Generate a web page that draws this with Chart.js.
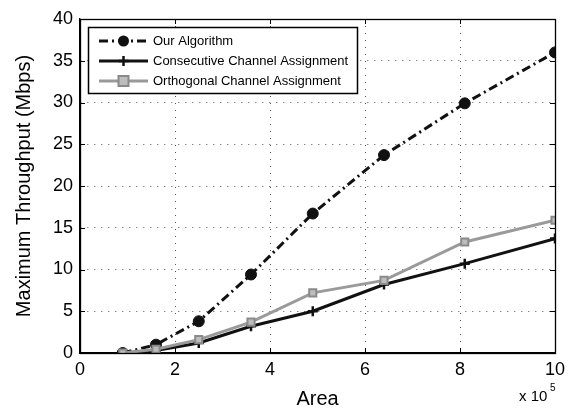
<!DOCTYPE html>
<html>
<head>
<meta charset="utf-8">
<script src="https://cdn.jsdelivr.net/npm/chart.js@4.4.0/dist/chart.umd.min.js"></script>
<style>
  html, body { margin: 0; padding: 0; background: #fff; }
  #wrap { width: 573px; height: 411px; }
</style>
</head>
<body>
<div id="wrap"><canvas id="chart" width="573" height="411"></canvas></div>
<script>
// area in units of 10^5
const areas = [0.9, 1.6, 2.5, 3.6, 4.9, 6.4, 8.1, 10];
const ourAlgorithm = [0, 1.0, 3.8, 9.4, 16.7, 23.7, 29.9, 36.0];
const consecutive = [0, 0.3, 1.2, 3.2, 5.0, 8.2, 10.7, 13.7];
const orthogonal = [0, 0.45, 1.6, 3.7, 7.2, 8.7, 13.3, 15.9];
const seriesNames = ["Our Algorithm", "Consecutive Channel Assignment", "Orthogonal Channel Assignment"];

const FONT = "'Liberation Sans', Arial, Helvetica, sans-serif";

function pts(ys) {
    return areas.map((x, i) => ({ x: x, y: ys[i] }));
}

// box, inward ticks, legend and the exponent label
const decorPlugin = {
    id: "decor",
    afterDraw(chart) {
        const ctx = chart.ctx;
        const a = chart.chartArea;
        const xs = chart.scales.x;
        const ys = chart.scales.y;
        ctx.save();
        ctx.strokeStyle = "#000";
        ctx.lineWidth = 1.3;
        ctx.setLineDash([]);
        ctx.strokeRect(a.left + 0.5, a.top + 0.5, a.right - a.left, a.bottom - a.top);
        const t = 5;
        ctx.lineWidth = 1;
        ctx.beginPath();
        xs.ticks.forEach(tk => {
            const px = Math.round(xs.getPixelForValue(tk.value)) + 0.5;
            ctx.moveTo(px, a.bottom); ctx.lineTo(px, a.bottom - t);
            ctx.moveTo(px, a.top); ctx.lineTo(px, a.top + t);
        });
        ys.ticks.forEach(tk => {
            const py = Math.round(ys.getPixelForValue(tk.value)) + 0.5;
            ctx.moveTo(a.left, py); ctx.lineTo(a.left + t, py);
            ctx.moveTo(a.right, py); ctx.lineTo(a.right - t, py);
        });
        ctx.stroke();

        // legend
        const lx = 88, ly = 27, lw = 269, lh = 66;
        ctx.fillStyle = "#fff";
        ctx.fillRect(lx, ly, lw, lh);
        ctx.lineWidth = 1.5;
        ctx.strokeRect(lx + 0.5, ly + 0.5, lw, lh);
        ctx.font = "13px " + FONT;
        ctx.textBaseline = "middle";
        chart.data.datasets.forEach((ds, i) => {
            const y = ly + 14 + i * 20;
            const cx = 123.5;
            ctx.save();
            ctx.strokeStyle = ds.borderColor;
            ctx.lineWidth = ds.borderWidth;
            ctx.setLineDash(ds.borderDash || []);
            ctx.beginPath();
            ctx.moveTo(99, y); ctx.lineTo(148, y);
            ctx.stroke();
            ctx.restore();
            ctx.save();
            ctx.fillStyle = ds.pointBackgroundColor;
            ctx.strokeStyle = ds.pointBorderColor;
            ctx.lineWidth = ds.pointBorderWidth;
            ctx.beginPath();
            const r = ds.pointRadius;
            if (ds.pointStyle === "circle") {
                ctx.arc(cx, y, r, 0, Math.PI * 2);
                ctx.fill();
            } else if (ds.pointStyle === "rect") {
                ctx.rect(cx - r, y - r, 2 * r, 2 * r);
                ctx.fill(); ctx.stroke();
            } else {
                ctx.moveTo(cx, y - r); ctx.lineTo(cx, y + r);
                ctx.moveTo(cx - r, y); ctx.lineTo(cx + r, y);
                ctx.stroke();
            }
            ctx.restore();
            ctx.fillStyle = "#000";
            ctx.fillText(seriesNames[i], 153, y);
        });

        // x 10^5
        ctx.fillStyle = "#000";
        ctx.textBaseline = "alphabetic";
        ctx.font = "15px " + FONT;
        ctx.fillText("x 10", 519, 401);
        ctx.font = "10px " + FONT;
        ctx.fillText("5", 550, 391);
        ctx.restore();
    }
};

new Chart(document.getElementById("chart").getContext("2d"), {
    type: "line",
    data: {
        datasets: [
            {
                label: seriesNames[0],
                data: pts(ourAlgorithm),
                borderColor: "#111",
                borderWidth: 3,
                borderDash: [9, 4, 2, 4],
                pointStyle: "circle",
                pointRadius: 5.5,
                pointBackgroundColor: "#111",
                pointBorderColor: "#111",
                pointBorderWidth: 1,
                tension: 0,
                order: 3
            },
            {
                label: seriesNames[1],
                data: pts(consecutive),
                borderColor: "#111",
                borderWidth: 3,
                pointStyle: "cross",
                pointRadius: 5,
                pointBackgroundColor: "#111",
                pointBorderColor: "#111",
                pointBorderWidth: 2.5,
                tension: 0,
                order: 2
            },
            {
                label: seriesNames[2],
                data: pts(orthogonal),
                borderColor: "#9a9a9a",
                borderWidth: 3,
                pointStyle: "rect",
                pointRadius: 5,
                pointBackgroundColor: "#bdbdbd",
                pointBorderColor: "#8a8a8a",
                pointBorderWidth: 2,
                tension: 0,
                order: 1
            }
        ]
    },
    options: {
        responsive: false,
        animation: false,
        layout: { padding: { top: 19, right: 18, left: 0, bottom: 0 } },
        plugins: {
            legend: { display: false },
            tooltip: { enabled: false }
        },
        scales: {
            x: {
                type: "linear",
                min: 0,
                max: 10,
                ticks: { stepSize: 2, padding: 6, color: "#000", font: { family: FONT, size: 18 } },
                grid: { color: "#555", lineWidth: 1, drawTicks: false },
                border: { display: true, color: "#000", width: 1.3, dash: [1, 6] },
                title: { display: true, text: "Area", color: "#000", font: { family: FONT, size: 20 }, padding: { top: 0, bottom: 0 } },
                afterFit: s => { s.height = 58; }
            },
            y: {
                type: "linear",
                min: 0,
                max: 40,
                ticks: { stepSize: 5, padding: 7, color: "#000", font: { family: FONT, size: 18 } },
                grid: { color: "#555", lineWidth: 1, drawTicks: false },
                border: { display: true, color: "#000", width: 1.3, dash: [1, 6] },
                title: { display: true, text: "Maximum Throughput (Mbps)", color: "#000", font: { family: FONT, size: 20 }, padding: { top: 12, bottom: 0 } },
                afterFit: s => { s.width = 80; }
            }
        }
    },
    plugins: [decorPlugin]
});
</script>
</body>
</html>
